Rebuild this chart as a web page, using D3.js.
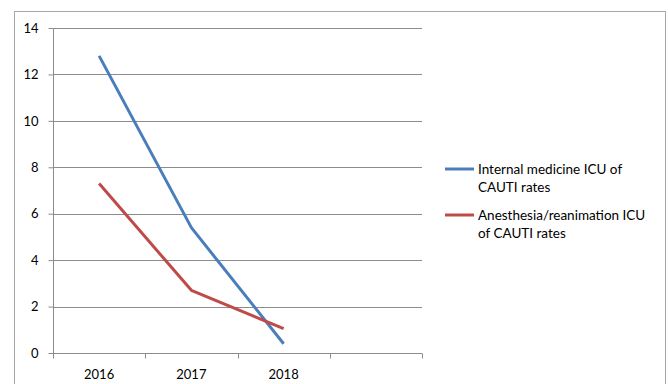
<!DOCTYPE html>
<html><head><meta charset="utf-8">
<script src="https://cdn.jsdelivr.net/npm/d3@7"></script>
<style>body{margin:0;background:#fff;} svg{display:block;} text{font-family:Lato, "Open Sans", sans-serif;fill:#000;}</style>
</head><body>
<svg id="c" width="668" height="384"></svg>
<script>
const categories = ["2016", "2017", "2018", ""];
const internalMedicine = [12.8, 5.4, 0.4];
const anesthesia = [7.3, 2.7, 1.05];
const yTicks = [0, 2, 4, 6, 8, 10, 12, 14];
const seriesNames = ["Internal medicine ICU of|CAUTI rates", "Anesthesia/reanimation ICU|of CAUTI rates"];
const colors = ["#4a7ebb", "#be4b48"];

const svg = d3.select("#c");
svg.append("rect").attr("x", 14.5).attr("y", 11.5).attr("width", 651).attr("height", 400)
  .attr("fill", "none").attr("stroke", "#a6a6a6");

const x = d3.scaleBand().domain(categories.map((d,i)=>i)).range([53, 422]);
const y = d3.scaleLinear().domain([0, 14]).range([353, 28]);

// gridlines
svg.append("g").selectAll("line").data(yTicks.filter(d=>d>0)).join("line")
  .attr("x1", 53).attr("x2", 422).attr("y1", d=>Math.round(y(d))+0.5).attr("y2", d=>Math.round(y(d))+0.5)
  .attr("stroke", "#8c8c8c").attr("stroke-width", 1);

// y axis
const ya = svg.append("g").attr("transform", "translate(53.5,0)")
  .call(d3.axisLeft(y).tickValues(yTicks).tickSize(5).tickPadding(10).tickFormat(d3.format("d")));
ya.select(".domain").attr("stroke", "#8c8c8c").attr("d", `M0,${y(14)}V${y(0)}`);
ya.selectAll(".tick line").attr("stroke", "#8c8c8c");
ya.selectAll(".tick text").style("font-size", "13px").attr("fill", "#000");

// x axis
const xa = svg.append("g").attr("transform", `translate(0,${Math.round(y(0))+0.5})`);
xa.append("line").attr("x1", 53).attr("x2", 422).attr("stroke", "#8c8c8c");
const bounds = categories.map((d,i)=>x(i)).concat([422]);
xa.selectAll("line.t").data(bounds).join("line").attr("class","t")
  .attr("x1", d=>Math.round(d)+0.5).attr("x2", d=>Math.round(d)+0.5).attr("y1", 0).attr("y2", 5)
  .attr("stroke", "#8c8c8c");
xa.selectAll("text").data(categories).join("text")
  .attr("x", (d,i)=>x(i)+x.bandwidth()/2).attr("y", 25).attr("text-anchor", "middle")
  .style("font-size", "13px").text(d=>d);

// lines
const line = d3.line().x((d,i)=>x(i)+x.bandwidth()/2).y(d=>y(d));
[internalMedicine, anesthesia].forEach((s, k) => {
  svg.append("path").datum(s).attr("d", line).attr("fill", "none")
    .attr("stroke", colors[k]).attr("stroke-width", 3).attr("stroke-linejoin", "round");
});

// legend
const legY = [169, 215];
seriesNames.forEach((n, k) => {
  const g = svg.append("g");
  g.append("line").attr("x1", 445).attr("x2", 474).attr("y1", legY[k]).attr("y2", legY[k])
    .attr("stroke", colors[k]).attr("stroke-width", 3);
  n.split("|").forEach((t, j) => {
    g.append("text").attr("x", 478).attr("y", legY[k] + 5 + j*18).style("font-size", "13.5px").text(t);
  });
});
</script>
</body></html>
